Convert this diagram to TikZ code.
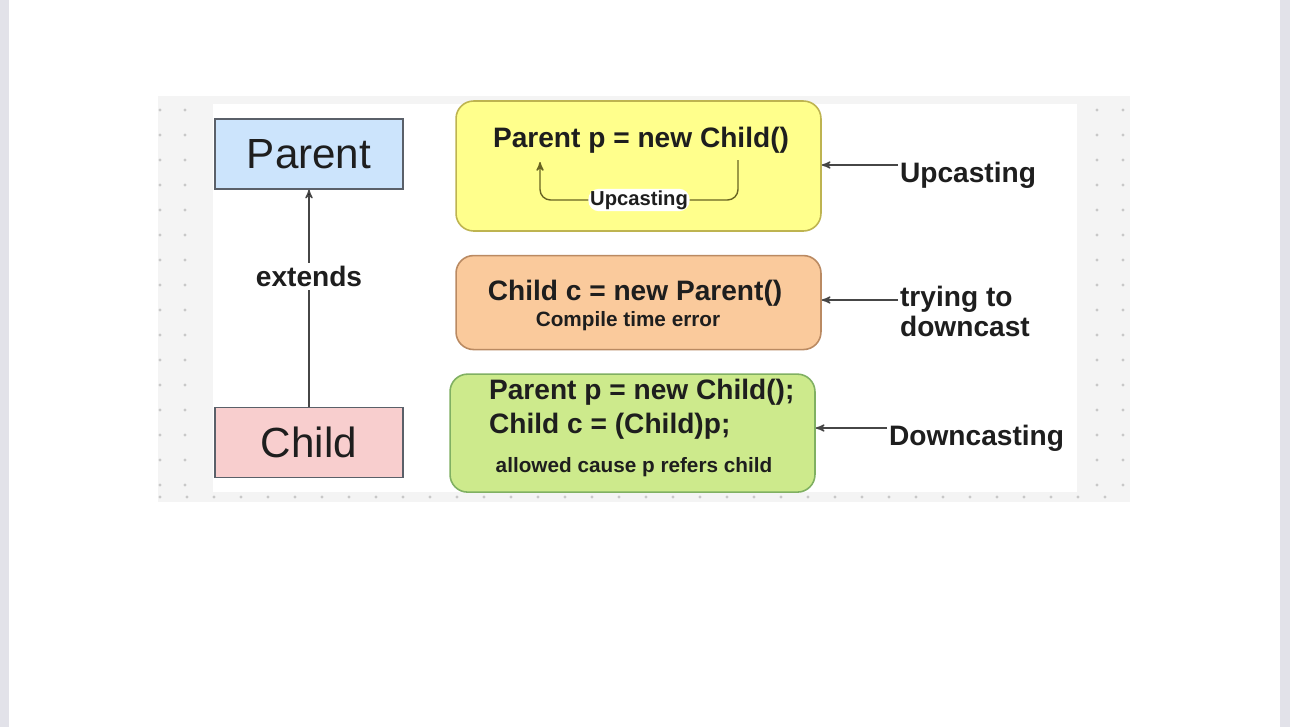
\documentclass[tikz,border=0pt]{standalone}
\usepackage{fontspec}
\setmainfont{Liberation Sans}
\usetikzlibrary{arrows,positioning}

\definecolor{frame}{RGB}{226,226,233}
\definecolor{paper}{RGB}{244,244,244}
\definecolor{dotc}{RGB}{200,200,200}
\definecolor{ink}{RGB}{30,30,30}
\definecolor{clsline}{RGB}{90,96,105}
\definecolor{clsblue}{RGB}{204,228,252}
\definecolor{clspink}{RGB}{248,206,206}
\definecolor{upfill}{RGB}{255,255,140}
\definecolor{upline}{RGB}{190,180,80}
\definecolor{errfill}{RGB}{250,202,156}
\definecolor{errline}{RGB}{186,138,98}
\definecolor{okfill}{RGB}{205,234,140}
\definecolor{okline}{RGB}{128,176,98}
\definecolor{arrgray}{RGB}{70,70,70}
\definecolor{loopc}{RGB}{104,100,34}

\begin{document}
\begin{tikzpicture}[x=0.02cm,y=-0.02cm,>=stealth',node distance=0.46cm,text=ink,
    cls/.style={draw=clsline,line width=0.8pt,minimum width=3.76cm,minimum height=1.4cm,
      font=\fontsize{24}{28}\selectfont},
    box/.style={line width=0.9pt,rounded corners=10pt,minimum width=7.3cm},
    code/.style={font=\bfseries\fontsize{16}{19.3}\selectfont,inner sep=1pt},
    note/.style={font=\bfseries\fontsize{11.8}{14}\selectfont,inner sep=1pt},
    side/.style={font=\bfseries\fontsize{16}{17.5}\selectfont,align=left,inner sep=1pt,anchor=west},
    arr/.style={->,line width=0.8pt,draw=arrgray}]
  \useasboundingbox (0,0) rectangle (1290,727);

  % page and paper
  \fill[white] (0,0) rectangle (1290,727);
  \fill[frame] (0,0) rectangle (9,727);
  \fill[frame] (1280,0) rectangle (1290,727);
  \fill[paper] (158,96) rectangle (1130,502);
  \fill[white] (213,104) rectangle (1077,492);
  \foreach \y in {110,135,...,485} {
    \fill[dotc] (160,\y) circle (0.9pt);
    \fill[dotc] (185,\y) circle (0.9pt);
    \fill[dotc] (1097,\y) circle (0.9pt);
    \fill[dotc] (1123,\y) circle (0.9pt);
  }
  \foreach \x in {160,187,...,1123}
    \fill[dotc] (\x,497) circle (0.9pt);

  % classes
  \node[cls,fill=clsblue] (Parent) at (309,154) {Parent};
  \node[cls,fill=clspink] (Child) [below=4.34cm of Parent] {Child};

  \path[->,line width=0.8pt,draw=arrgray]
    (Child) edge node[pos=0.6,fill=white,inner sep=2pt,font=\bfseries\fontsize{16}{18}\selectfont] {extends} (Parent);

  % casting boxes
  \node[box,draw=upline,fill=upfill,minimum height=2.6cm] (up) at (638.5,166) {};
  \node[box,draw=errline,fill=errfill,minimum height=1.88cm] (err) [below=of up] {};
  \node[box,draw=okline,fill=okfill,minimum height=2.36cm] (ok) [below=of err,xshift=-0.12cm] {};

  \node[code] (upcode) at (641,140) {Parent p = new Child()};
  \coordinate (loopR) at (738,160);
  \coordinate (loopL) at (540,162);
  \draw[->,line width=0.8pt,draw=loopc,rounded corners=6pt]
    (loopR) -- ++(0,40) -| node[pos=0.25,fill=white,inner sep=1pt,
      font=\bfseries\fontsize{11.5}{13}\selectfont] (upnote) {Upcasting} (loopL);

  \node[code] (errcode) at (635,293) {Child c = new Parent()};
  \node[note] (errnote) at (628,321.5) {Compile time error};

  \node[code,align=left,anchor=west] (okcode) at (487,409) {Parent p = new Child();\\Child c = (Child)p;};
  \node[note] (oknote) at (634,467.5) {allowed cause p refers child};

  % side labels
  \node[side] (uplbl) at (898,175.7) {Upcasting};
  \node[side] (errlbl) at (898,311.5) {trying to\\downcast};
  \node[side] (oklbl) at (887,438.7) {Downcasting};

  \draw[arr] (uplbl.west |- 0,165) -- (up.east |- 0,165);
  \draw[arr] (errlbl.west |- 0,300) -- (err.east |- 0,300);
  \draw[arr] (oklbl.west |- 0,428) -- (ok.east |- 0,428);
\end{tikzpicture}
\end{document}
